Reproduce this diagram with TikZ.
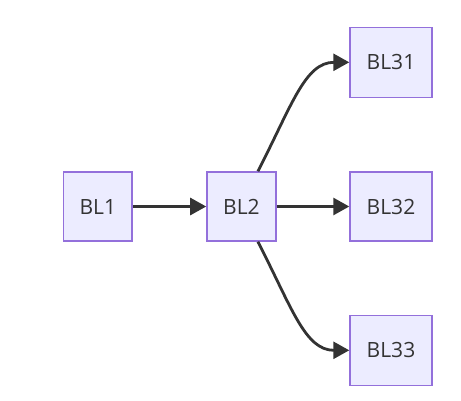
\documentclass[tikz,border=0pt]{standalone}
\usepackage{fontspec}
\setmainfont{Open Sans}
\usetikzlibrary{arrows.meta}
\definecolor{nodefill}{HTML}{ECECFF}
\definecolor{nodeline}{HTML}{9370DB}
\definecolor{edgecol}{HTML}{333333}
\begin{document}
\begin{tikzpicture}[x=1pt,y=-1pt,
  box/.style={draw=nodeline,fill=nodefill,line width=1.4pt,inner sep=0pt,
    minimum height=69pt,text=edgecol,font=\fontsize{21}{25}\selectfont},
  edge/.style={draw=edgecol,line width=2.8pt,-{Triangle[length=16pt,width=17pt]}}]
\useasboundingbox (0,0) rectangle (461,400);
\node[box,minimum width=68.5pt] (BL1) at (97.8,206.5) {BL1};
\node[box,minimum width=69pt] (BL2) at (241.4,206.5) {BL2};
\node[box,minimum width=82pt,minimum height=70pt] (BL31) at (391,62.3) {BL31};
\node[box,minimum width=82pt] (BL32) at (391,206.5) {BL32};
\node[box,minimum width=82pt,minimum height=70pt] (BL33) at (391,350.3) {BL33};
\coordinate (c31) at (334,62.3);
\coordinate (c33) at (334,350.3);
\draw[edge] (BL1.east) -- (BL2.west);
\draw[edge] (BL2.east) -- (BL32.west);
\draw[edge] ([xshift=16.5pt]BL2.north) .. controls (292,105) and (305,62.3) .. (c31) -- (BL31.west);
\draw[edge] ([xshift=16.5pt]BL2.south) .. controls (292,308) and (305,350.3) .. (c33) -- (BL33.west);
\end{tikzpicture}
\end{document}
